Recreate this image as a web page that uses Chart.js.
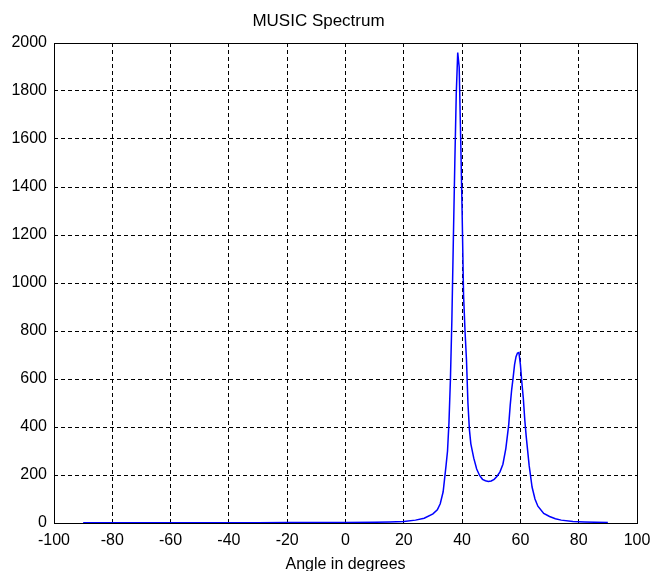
<!DOCTYPE html>
<html>
<head>
<meta charset="utf-8">
<title>MUSIC Spectrum</title>
<script src="https://cdn.jsdelivr.net/npm/chart.js@4.4.1/dist/chart.umd.min.js"></script>
<style>
  html, body { margin: 0; padding: 0; background: #fff; }
  #wrap { width: 652px; height: 571px; }
</style>
</head>
<body>
<div id="wrap"><canvas id="chartMusic" width="652" height="571"></canvas></div>
<script>
/* =========================
  Data
========================= */
const angles = [
  -90, -80, -70, -60, -50, -40, -30, -20, -10, 0, 10, 15, 20, 24, 27, 30,
  31.5, 32.5, 33.5, 34, 34.5, 35, 35.5, 36, 36.5, 37, 37.5, 38, 38.5, 39,
  39.5, 40, 40.5, 41, 41.5, 42, 42.5, 43, 44, 45, 46, 47, 48, 49, 50, 51,
  52, 53, 54, 55, 56, 56.5, 57, 57.5, 58, 58.5, 59, 59.5, 60, 60.5, 61,
  61.5, 62, 63, 64, 65, 66, 68, 70, 72, 74, 78, 82, 86, 90
];
const spectrum = [
  1, 1, 1, 1, 1, 1, 1, 2, 2, 2, 3, 4, 6, 12, 20, 38,
  55, 80, 130, 185, 240, 300, 420, 600, 850, 1180, 1500, 1790, 1960, 1900,
  1610, 1300, 950, 800, 680, 500, 390, 330, 270, 225, 198, 182, 176, 173, 175, 182,
  195, 213, 245, 310, 410, 490, 555, 605, 660, 693, 708, 710, 660, 585, 520,
  430, 360, 240, 150, 100, 70, 40, 27, 18, 12, 6, 4, 3, 2
];
const xTicks = [-100, -80, -60, -40, -20, 0, 20, 40, 60, 80, 100];
const yTicks = [0, 200, 400, 600, 800, 1000, 1200, 1400, 1600, 1800, 2000];

/* =========================
  Helper
========================= */
const FONT = "'Liberation Sans', Arial, sans-serif";

// solid frame round the plot area, like the matlab axes box
const boxPlugin = {
  id: "box",
  afterDraw(chart) {
    const { ctx, chartArea: a } = chart;
    ctx.save();
    ctx.strokeStyle = "#000";
    ctx.lineWidth = 1;
    ctx.setLineDash([]);
    ctx.strokeRect(Math.round(a.left) + 0.5, Math.round(a.top) + 0.5,
      Math.round(a.right - a.left), Math.round(a.bottom - a.top));
    ctx.restore();
  }
};

const gridStyle = {
  color: "#000",
  lineWidth: 1,
  drawTicks: false
};

/* =========================
  Render Chart
========================= */
const points = angles.map((a, i) => ({ x: a, y: spectrum[i] }));

new Chart(document.getElementById("chartMusic"), {
  type: "line",
  data: {
    datasets: [{
      data: points,
      borderColor: "#0000ff",
      borderWidth: 1.5,
      pointRadius: 0,
      tension: 0,
      fill: false
    }]
  },
  options: {
    responsive: false,
    animation: false,
    layout: { padding: { left: 0, right: 15, top: 0, bottom: 0 } },
    plugins: {
      legend: { display: false },
      tooltip: { enabled: false },
      title: {
        display: true,
        text: "MUSIC Spectrum",
        color: "#000",
        font: { family: FONT, size: 17, weight: "normal", lineHeight: 1.2 },
        padding: { top: 11, bottom: 11.6 }
      }
    },
    scales: {
      x: {
        type: "linear",
        min: -100,
        max: 100,
        afterFit: s => { s.height = 48; s.paddingRight = 0; s.paddingLeft = 0; },
        afterBuildTicks: s => { s.ticks = xTicks.map(v => ({ value: v })); },
        grid: gridStyle,
        border: { display: false, dash: [4, 3] },
        ticks: {
          color: "#000",
          padding: 8,
          maxRotation: 0,
          callback: v => String(v),
          font: { family: FONT, size: 16 }
        },
        title: {
          display: true,
          text: "Angle in degrees",
          color: "#000",
          font: { family: FONT, size: 16, lineHeight: 0.85 },
          padding: { top: 0, bottom: 0 }
        }
      },
      y: {
        min: 0,
        max: 2000,
        afterFit: s => { s.width = 54; s.paddingTop = 0; s.paddingBottom = 0; },
        afterBuildTicks: s => { s.ticks = yTicks.map(v => ({ value: v })); },
        grid: gridStyle,
        border: { display: false, dash: [4, 3] },
        ticks: {
          color: "#000",
          padding: 7,
          callback: v => String(v),
          font: { family: FONT, size: 16 }
        }
      }
    }
  },
  plugins: [boxPlugin]
});
</script>
</body>
</html>
